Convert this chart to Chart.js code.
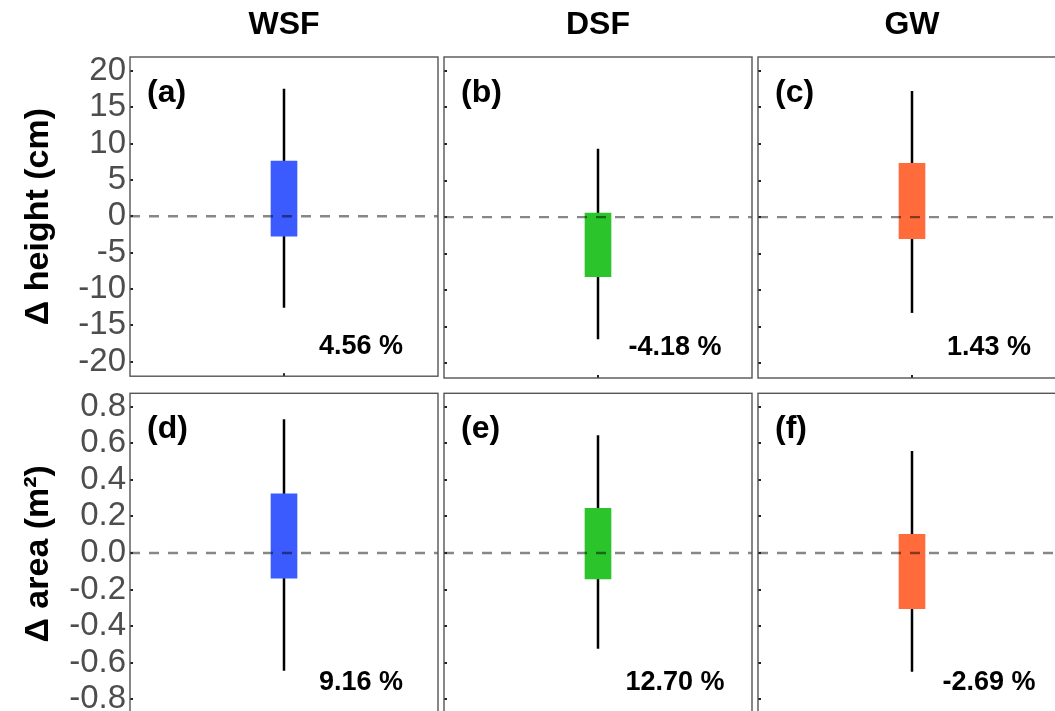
<!DOCTYPE html>
<html>
<head>
<meta charset="utf-8">
<script src="https://cdn.jsdelivr.net/npm/chart.js@4.4.1/dist/chart.umd.min.js"></script>
<style>
  html, body { margin: 0; padding: 0; background: #fff; overflow: hidden; }
  #fig { position: relative; width: 1055px; height: 711px; overflow: hidden; background: #fff; }
  #fig canvas { position: absolute; }
</style>
</head>
<body>
<div id="fig"></div>
<script>
// ---- data ----
const GROUPS = ['WSF', 'DSF', 'GW'];
const GROUP_COLORS = ['#3B5BFF', '#2BC42B', '#FF6B3B'];

const HEIGHT_TAGS = ['(a)', '(b)', '(c)'];
const HEIGHT_TICKS = [-20, -15, -10, -5, 0, 5, 10, 15, 20];
const HEIGHT_WHISKER_LOW  = [-12.6, -16.7, -13.1];
const HEIGHT_WHISKER_HIGH = [17.55, 9.35, 17.25];
const HEIGHT_BOX_LOW  = [-2.75, -8.15, -2.95];
const HEIGHT_BOX_HIGH = [7.6, 0.55, 7.35];
const HEIGHT_CHANGE = ['4.56 %', '-4.18 %', '1.43 %'];

const AREA_TAGS = ['(d)', '(e)', '(f)'];
const AREA_TICKS = [-0.8, -0.6, -0.4, -0.2, 0, 0.2, 0.4, 0.6, 0.8];
const AREA_WHISKER_LOW  = [-0.644, -0.523, -0.649];
const AREA_WHISKER_HIGH = [0.731, 0.644, 0.558];
const AREA_BOX_LOW  = [-0.138, -0.142, -0.305];
const AREA_BOX_HIGH = [0.324, 0.244, 0.102];
const AREA_CHANGE = ['9.16 %', '12.70 %', '-2.69 %'];

// ---- layout ----
const FONT = '"Liberation Sans", Arial, Helvetica, sans-serif';
Chart.defaults.font.family = FONT;

const ROWS = [
  { axisTitle: 'Δ height (cm)', tags: HEIGHT_TAGS, ticks: HEIGHT_TICKS,
    wLo: HEIGHT_WHISKER_LOW, wHi: HEIGHT_WHISKER_HIGH, bLo: HEIGHT_BOX_LOW, bHi: HEIGHT_BOX_HIGH,
    change: HEIGHT_CHANGE, min: -22.0, max: 21.9, labelY: -17.9,
    fmt: v => String(v), top: 0, height: 400, padTop: 0, padBottom: 22, colTitles: true },
  { axisTitle: 'Δ area (m²)', tags: AREA_TAGS, ticks: AREA_TICKS,
    wLo: AREA_WHISKER_LOW, wHi: AREA_WHISKER_HIGH, bLo: AREA_BOX_LOW, bHi: AREA_BOX_HIGH,
    change: AREA_CHANGE, min: -0.882, max: 0.873, labelY: -0.71,
    fmt: v => v.toFixed(1), top: 360, height: 380, padTop: 33.3, padBottom: 25.7, colTitles: false }
];

const COLS = [
  { left: 0,   width: 446, padL: 0, padR: 8 },
  { left: 436, width: 324, padL: 8, padR: 8 },
  { left: 750, width: 324, padL: 8, padR: 8 }
];

// panel frame, inward ticks, panel tag and change label
function makeDecor(tag, changeText, labelY, ticks) {
  return {
    id: 'panelDecor',
    afterDatasetsDraw(chart) {
      const { ctx, chartArea: a, scales } = chart;
      const ys = scales.y, xs = scales.x;
      ctx.save();
      ctx.fillStyle = '#222';
      ticks.forEach(v => {
        const y = Math.round(ys.getPixelForValue(v));
        ctx.fillRect(a.left, y - 1, 3, 2);
      });
      const cx = Math.round(xs.getPixelForValue(1));
      ctx.fillRect(cx - 1, a.bottom - 3, 2, 3);

      ctx.strokeStyle = '#555';
      ctx.lineWidth = 1.4;
      ctx.strokeRect(a.left, a.top, a.right - a.left, a.bottom - a.top);

      ctx.fillStyle = '#000';
      ctx.textBaseline = 'middle';
      ctx.textAlign = 'left';
      ctx.font = 'bold 32px ' + FONT;
      ctx.fillText(tag, a.left + 17, a.top + 36);

      ctx.textAlign = 'center';
      ctx.font = 'bold 27px ' + FONT;
      ctx.fillText(changeText, xs.getPixelForValue(1.5), ys.getPixelForValue(labelY));
      ctx.restore();
    }
  };
}

const fig = document.getElementById('fig');

ROWS.forEach((row, r) => {
  COLS.forEach((col, c) => {
    const isLeft = c === 0;
    const cv = document.createElement('canvas');
    cv.width = col.width;
    cv.height = row.height;
    cv.style.left = col.left + 'px';
    cv.style.top = row.top + 'px';
    cv.style.width = col.width + 'px';
    cv.style.height = row.height + 'px';
    fig.appendChild(cv);

    const yScale = {
      type: 'linear', min: row.min, max: row.max,
      display: isLeft,
      afterBuildTicks: s => { s.ticks = row.ticks.map(v => ({ value: v })); },
      grid: { display: false, drawTicks: false },
      border: { display: false },
      ticks: {
        autoSkip: false,
        color: '#4D4D4D',
        padding: 4,
        font: { size: 33, family: FONT },
        callback: v => row.fmt(v)
      },
      title: {
        display: isLeft,
        text: row.axisTitle,
        color: '#000',
        font: { size: 34, weight: 'bold', family: FONT },
        padding: { top: 18, bottom: 0 }
      }
    };
    if (isLeft) yScale.afterFit = s => { s.width = 130; };

    new Chart(cv, {
      type: 'bar',
      data: {
        datasets: [
          { // zero reference
            type: 'line', order: 0,
            data: [{ x: 0, y: 0 }, { x: 2, y: 0 }],
            borderColor: 'rgba(0,0,0,0.47)', borderWidth: 2.4, borderDash: [10, 9],
            pointRadius: 0, fill: false
          },
          { // interquartile box
            type: 'bar', order: 1,
            data: [{ x: 1, y: [row.bLo[c], row.bHi[c]] }],
            backgroundColor: GROUP_COLORS[c], borderWidth: 0,
            barThickness: 26
          },
          { // whisker
            type: 'line', order: 2,
            data: [{ x: 1, y: row.wLo[c] }, { x: 1, y: row.wHi[c] }],
            borderColor: '#000', borderWidth: 2.5, pointRadius: 0, fill: false
          }
        ]
      },
      options: {
        responsive: false,
        devicePixelRatio: 1,
        animation: false,
        events: [],
        layout: { padding: { left: col.padL, right: col.padR, top: row.padTop, bottom: row.padBottom } },
        plugins: {
          legend: { display: false },
          tooltip: { enabled: false },
          title: {
            display: row.colTitles,
            text: GROUPS[c],
            fullSize: false,
            color: '#000',
            font: { size: 32, weight: 'bold', family: FONT },
            padding: { top: 6, bottom: 12.6 }
          }
        },
        scales: {
          x: {
            type: 'linear', min: 0, max: 2, offset: false, display: false,
            afterBuildTicks: s => { s.ticks = [{ value: 1 }]; }
          },
          y: yScale
        }
      },
      plugins: [makeDecor(row.tags[c], row.change[c], row.labelY, row.ticks)]
    });
  });
});
</script>
</body>
</html>
